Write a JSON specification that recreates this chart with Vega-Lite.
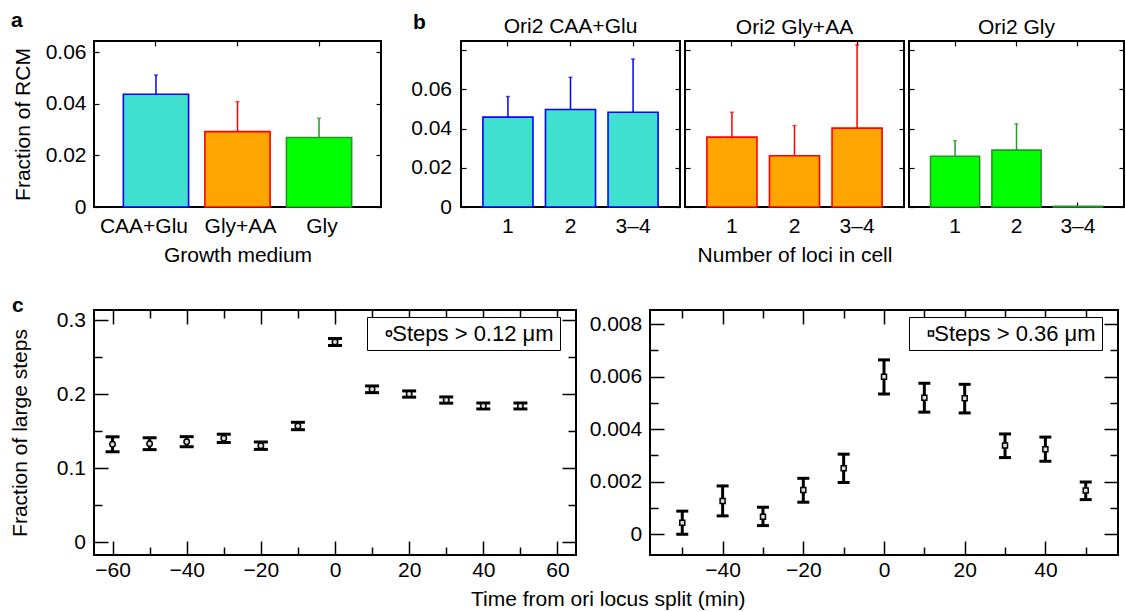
{
  "$schema": "https://vega.github.io/schema/vega-lite/v6.json",
  "padding": {"left": 8, "top": 9, "right": 0, "bottom": 0},
  "background": "white",
  "config": {
    "font": "Liberation Sans",
    "view": {"stroke": "black", "strokeWidth": 2},
    "axis": {"grid": false, "domain": false, "labelFont": "Liberation Sans", "titleFont": "Liberation Sans", "labelFontSize": 21, "titleFontSize": 21, "labelColor": "black", "titleColor": "black", "titleFontWeight": "normal", "tickColor": "black", "tickWidth": 1.2, "labelOverlap": false, "labelFlush": false, "labelBound": false},
    "title": {"font": "Liberation Sans", "fontSize": 21, "fontWeight": "normal", "color": "black"},
    "legend": {"labelFont": "Liberation Sans", "labelFontSize": 22, "labelColor": "black", "labelLimit": 0}
  },
  "datasets": {
    "a": [
      {"medium": "CAA+Glu", "frac": 0.0437, "err": 0.0511},
      {"medium": "Gly+AA", "frac": 0.0292, "err": 0.0408},
      {"medium": "Gly", "frac": 0.0269, "err": 0.0344}
    ],
    "b1": [
      {"loci": "1", "medium": "CAA+Glu", "frac": 0.0458, "err": 0.0563},
      {"loci": "2", "medium": "CAA+Glu", "frac": 0.0497, "err": 0.0661},
      {"loci": "3–4", "medium": "CAA+Glu", "frac": 0.0483, "err": 0.0754}
    ],
    "b2": [
      {"loci": "1", "medium": "Gly+AA", "frac": 0.0356, "err": 0.0483},
      {"loci": "2", "medium": "Gly+AA", "frac": 0.0261, "err": 0.0415},
      {"loci": "3–4", "medium": "Gly+AA", "frac": 0.0402, "err": 0.0827}
    ],
    "b3": [
      {"loci": "1", "medium": "Gly", "frac": 0.0259, "err": 0.0338},
      {"loci": "2", "medium": "Gly", "frac": 0.029, "err": 0.0424},
      {"loci": "3–4", "medium": "Gly", "frac": 0.0004, "err": null}
    ],
    "c1": [
      {"t": -60, "v": 0.1323, "lo": 0.1222, "hi": 0.1424, "series": "Steps > 0.12 μm"},
      {"t": -50, "v": 0.1331, "lo": 0.1251, "hi": 0.1411, "series": "Steps > 0.12 μm"},
      {"t": -40, "v": 0.1358, "lo": 0.129, "hi": 0.1426, "series": "Steps > 0.12 μm"},
      {"t": -30, "v": 0.1403, "lo": 0.1347, "hi": 0.1459, "series": "Steps > 0.12 μm"},
      {"t": -20, "v": 0.1304, "lo": 0.1254, "hi": 0.1354, "series": "Steps > 0.12 μm"},
      {"t": -10, "v": 0.157, "lo": 0.152, "hi": 0.162, "series": "Steps > 0.12 μm"},
      {"t": 0, "v": 0.2703, "lo": 0.2656, "hi": 0.275, "series": "Steps > 0.12 μm"},
      {"t": 10, "v": 0.2065, "lo": 0.202, "hi": 0.211, "series": "Steps > 0.12 μm"},
      {"t": 20, "v": 0.2001, "lo": 0.1959, "hi": 0.2043, "series": "Steps > 0.12 μm"},
      {"t": 30, "v": 0.192, "lo": 0.1878, "hi": 0.1962, "series": "Steps > 0.12 μm"},
      {"t": 40, "v": 0.184, "lo": 0.18, "hi": 0.188, "series": "Steps > 0.12 μm"},
      {"t": 50, "v": 0.184, "lo": 0.18, "hi": 0.188, "series": "Steps > 0.12 μm"}
    ],
    "c2": [
      {"t": -50, "v": 0.00044, "lo": 0.0, "hi": 0.00088, "series": "Steps > 0.36 μm"},
      {"t": -40, "v": 0.00127, "lo": 0.0007, "hi": 0.00184, "series": "Steps > 0.36 μm"},
      {"t": -30, "v": 0.00067, "lo": 0.00033, "hi": 0.00103, "series": "Steps > 0.36 μm"},
      {"t": -20, "v": 0.00169, "lo": 0.00122, "hi": 0.00213, "series": "Steps > 0.36 μm"},
      {"t": -10, "v": 0.00251, "lo": 0.00197, "hi": 0.00305, "series": "Steps > 0.36 μm"},
      {"t": 0, "v": 0.006, "lo": 0.00534, "hi": 0.00664, "series": "Steps > 0.36 μm"},
      {"t": 10, "v": 0.0052, "lo": 0.00465, "hi": 0.00575, "series": "Steps > 0.36 μm"},
      {"t": 20, "v": 0.00518, "lo": 0.00462, "hi": 0.00571, "series": "Steps > 0.36 μm"},
      {"t": 30, "v": 0.00338, "lo": 0.00292, "hi": 0.00382, "series": "Steps > 0.36 μm"},
      {"t": 40, "v": 0.00324, "lo": 0.00278, "hi": 0.0037, "series": "Steps > 0.36 μm"},
      {"t": 50, "v": 0.00167, "lo": 0.00132, "hi": 0.00199, "series": "Steps > 0.36 μm"}
    ]
  },
  "spacing": 269,
  "bounds": "flush",
  "vconcat": [
    {
      "spacing": 80,
      "bounds": "flush",
      "hconcat": [
        {
          "width": 287,
          "height": 166,
          "title": {"text": "a", "anchor": "start", "frame": "group", "dx": -83, "fontWeight": "bold", "offset": 9},
          "data": {"name": "a"},
          "layer": [
            {
              "mark": {"type": "bar", "strokeWidth": 1.6},
              "encoding": {
                "x": {"field": "medium", "type": "nominal", "sort": null, "scale": {"domain": ["CAA+Glu", "Gly+AA", "Gly"], "paddingInner": 0.2, "paddingOuter": 0.36}, "axis": {"orient": "bottom", "title": "Growth medium", "labelAngle": 0, "tickSize": -5, "labelPadding": 13.5, "titlePadding": 8, "labelOffset": {"condition": {"test": "datum.value == 'CAA+Glu'", "value": -12}, "value": 3}}},
                "y": {"field": "frac", "type": "quantitative", "scale": {"domain": [0, 0.0643], "nice": false, "zero": false}, "axis": {"orient": "left", "title": "Fraction of RCM", "values": [0, 0.02, 0.04, 0.06], "format": "~g", "tickSize": -5, "labelPadding": 13, "titlePadding": 12}},
                "fill": {"field": "medium", "type": "nominal", "scale": {"domain": ["CAA+Glu", "Gly+AA", "Gly"], "range": ["#40E0D0", "#FFA500", "#00FF00"]}, "legend": null},
                "stroke": {"field": "medium", "type": "nominal", "scale": {"domain": ["CAA+Glu", "Gly+AA", "Gly"], "range": ["#0000FF", "#FF0000", "#229922"]}, "legend": null}
              }
            },
            {
              "mark": {"type": "rule", "strokeWidth": 1.5},
              "encoding": {
                "x": {"field": "medium", "type": "nominal", "sort": null, "axis": {"orient": "top", "labels": false, "title": null, "tickSize": -5}},
                "y": {"field": "frac", "type": "quantitative", "axis": {"orient": "right", "labels": false, "title": null, "values": [0, 0.02, 0.04, 0.06], "tickSize": -5}},
                "y2": {"field": "err"},
                "stroke": {"field": "medium", "type": "nominal", "legend": null}
              }
            },
            {
              "mark": {"type": "tick", "orient": "horizontal", "size": 4, "thickness": 1.5},
              "encoding": {
                "x": {"field": "medium", "type": "nominal", "sort": null, "axis": null},
                "y": {"field": "err", "type": "quantitative", "axis": null},
                "color": {"field": "medium", "type": "nominal", "scale": {"domain": ["CAA+Glu", "Gly+AA", "Gly"], "range": ["#0000FF", "#FF0000", "#229922"]}, "legend": null}
              }
            }
          ],
          "resolve": {"axis": {"x": "independent", "y": "independent"}}
        },
        {
          "title": {"text": "b", "anchor": "start", "frame": "group", "dx": -48, "dy": 18, "fontWeight": "bold", "offset": 0},
          "spacing": 5,
          "bounds": "flush",
          "hconcat": [
            {
              "width": 219,
              "height": 166,
              "title": {"text": "Ori2 CAA+Glu", "offset": 2},
              "data": {"name": "b1"},
              "layer": [
                {
                  "mark": {"type": "bar", "strokeWidth": 1.6},
                  "encoding": {
                    "x": {"field": "loci", "type": "nominal", "sort": null, "scale": {"domain": ["1", "2", "3–4"], "paddingInner": 0.2, "paddingOuter": 0.35}, "axis": {"orient": "bottom", "title": null, "labelAngle": 0, "tickSize": -5, "labelPadding": 13.5}},
                    "y": {"field": "frac", "type": "quantitative", "scale": {"domain": [0, 0.0846], "nice": false, "zero": false}, "axis": {"orient": "left", "title": null, "values": [0, 0.02, 0.04, 0.06, 0.08], "format": "~g", "labelExpr": "datum.value > 0.07 ? '' : datum.label", "tickSize": -5, "labelPadding": 14.5}},
                    "fill": {"field": "medium", "type": "nominal", "scale": {"domain": ["CAA+Glu", "Gly+AA", "Gly"], "range": ["#40E0D0", "#FFA500", "#00FF00"]}, "legend": null},
                    "stroke": {"field": "medium", "type": "nominal", "scale": {"domain": ["CAA+Glu", "Gly+AA", "Gly"], "range": ["#0000FF", "#FF0000", "#229922"]}, "legend": null}
                  }
                },
                {
                  "mark": {"type": "rule", "strokeWidth": 1.5},
                  "encoding": {
                    "x": {"field": "loci", "type": "nominal", "sort": null, "axis": {"orient": "top", "labels": false, "title": null, "tickSize": -5}},
                    "y": {"field": "frac", "type": "quantitative", "axis": {"orient": "right", "labels": false, "title": null, "values": [0, 0.02, 0.04, 0.06, 0.08], "tickSize": -5}},
                    "y2": {"field": "err"},
                    "stroke": {"field": "medium", "type": "nominal", "legend": null}
                  }
                },
                {
                  "mark": {"type": "tick", "orient": "horizontal", "size": 4, "thickness": 1.5},
                  "encoding": {
                    "x": {"field": "loci", "type": "nominal", "sort": null, "axis": null},
                    "y": {"field": "err", "type": "quantitative", "axis": null},
                    "color": {"field": "medium", "type": "nominal", "scale": {"domain": ["CAA+Glu", "Gly+AA", "Gly"], "range": ["#0000FF", "#FF0000", "#229922"]}, "legend": null}
                  }
                }
              ],
              "resolve": {"axis": {"x": "independent", "y": "independent"}}
            },
            {
              "width": 219,
              "height": 166,
              "title": {"text": "Ori2 Gly+AA", "offset": 2},
              "data": {"name": "b2"},
              "layer": [
                {
                  "mark": {"type": "bar", "strokeWidth": 1.6},
                  "encoding": {
                    "x": {"field": "loci", "type": "nominal", "sort": null, "scale": {"domain": ["1", "2", "3–4"], "paddingInner": 0.2, "paddingOuter": 0.35}, "axis": {"orient": "bottom", "title": "Number of loci in cell", "labelAngle": 0, "tickSize": -5, "labelPadding": 13.5, "titlePadding": 8}},
                    "y": {"field": "frac", "type": "quantitative", "scale": {"domain": [0, 0.0846], "nice": false, "zero": false}, "axis": {"orient": "left", "title": null, "labels": false, "values": [0, 0.02, 0.04, 0.06, 0.08], "tickSize": -5}},
                    "fill": {"field": "medium", "type": "nominal", "scale": {"domain": ["CAA+Glu", "Gly+AA", "Gly"], "range": ["#40E0D0", "#FFA500", "#00FF00"]}, "legend": null},
                    "stroke": {"field": "medium", "type": "nominal", "scale": {"domain": ["CAA+Glu", "Gly+AA", "Gly"], "range": ["#0000FF", "#FF0000", "#229922"]}, "legend": null}
                  }
                },
                {
                  "mark": {"type": "rule", "strokeWidth": 1.5},
                  "encoding": {
                    "x": {"field": "loci", "type": "nominal", "sort": null, "axis": {"orient": "top", "labels": false, "title": null, "tickSize": -5}},
                    "y": {"field": "frac", "type": "quantitative", "axis": {"orient": "right", "labels": false, "title": null, "values": [0, 0.02, 0.04, 0.06, 0.08], "tickSize": -5}},
                    "y2": {"field": "err"},
                    "stroke": {"field": "medium", "type": "nominal", "legend": null}
                  }
                },
                {
                  "mark": {"type": "tick", "orient": "horizontal", "size": 4, "thickness": 1.5},
                  "encoding": {
                    "x": {"field": "loci", "type": "nominal", "sort": null, "axis": null},
                    "y": {"field": "err", "type": "quantitative", "axis": null},
                    "color": {"field": "medium", "type": "nominal", "scale": {"domain": ["CAA+Glu", "Gly+AA", "Gly"], "range": ["#0000FF", "#FF0000", "#229922"]}, "legend": null}
                  }
                }
              ],
              "resolve": {"axis": {"x": "independent", "y": "independent"}}
            },
            {
              "width": 215,
              "height": 166,
              "title": {"text": "Ori2 Gly", "offset": 2},
              "data": {"name": "b3"},
              "layer": [
                {
                  "mark": {"type": "bar", "strokeWidth": 1.6},
                  "encoding": {
                    "x": {"field": "loci", "type": "nominal", "sort": null, "scale": {"domain": ["1", "2", "3–4"], "paddingInner": 0.2, "paddingOuter": 0.35}, "axis": {"orient": "bottom", "title": null, "labelAngle": 0, "tickSize": -5, "labelPadding": 13.5}},
                    "y": {"field": "frac", "type": "quantitative", "scale": {"domain": [0, 0.0846], "nice": false, "zero": false}, "axis": {"orient": "left", "title": null, "labels": false, "values": [0, 0.02, 0.04, 0.06, 0.08], "tickSize": -5}},
                    "fill": {"field": "medium", "type": "nominal", "scale": {"domain": ["CAA+Glu", "Gly+AA", "Gly"], "range": ["#40E0D0", "#FFA500", "#00FF00"]}, "legend": null},
                    "stroke": {"field": "medium", "type": "nominal", "scale": {"domain": ["CAA+Glu", "Gly+AA", "Gly"], "range": ["#0000FF", "#FF0000", "#229922"]}, "legend": null}
                  }
                },
                {
                  "mark": {"type": "rule", "strokeWidth": 1.5},
                  "encoding": {
                    "x": {"field": "loci", "type": "nominal", "sort": null, "axis": {"orient": "top", "labels": false, "title": null, "tickSize": -5}},
                    "y": {"field": "frac", "type": "quantitative", "axis": {"orient": "right", "labels": false, "title": null, "values": [0, 0.02, 0.04, 0.06, 0.08], "tickSize": -5}},
                    "y2": {"field": "err"},
                    "stroke": {"field": "medium", "type": "nominal", "legend": null}
                  }
                },
                {
                  "mark": {"type": "tick", "orient": "horizontal", "size": 4, "thickness": 1.5},
                  "encoding": {
                    "x": {"field": "loci", "type": "nominal", "sort": null, "axis": null},
                    "y": {"field": "err", "type": "quantitative", "axis": null},
                    "color": {"field": "medium", "type": "nominal", "scale": {"domain": ["CAA+Glu", "Gly+AA", "Gly"], "range": ["#0000FF", "#FF0000", "#229922"]}, "legend": null}
                  }
                }
              ],
              "resolve": {"axis": {"x": "independent", "y": "independent"}}
            }
          ]
        }
      ]
    },
    {
      "spacing": 74,
      "bounds": "flush",
      "title": {"text": "Time from ori locus split (min)", "orient": "bottom", "anchor": "start", "frame": "group", "dx": 377, "offset": 2},
      "resolve": {"scale": {"shape": "independent"}, "legend": {"shape": "independent"}},
      "hconcat": [
        {
          "width": 482,
          "height": 245,
          "title": {"text": "c", "anchor": "start", "frame": "group", "dx": -82, "fontWeight": "bold", "offset": -7},
          "data": {"name": "c1"},
          "layer": [
            {
              "mark": {"type": "rule", "strokeWidth": 3, "color": "black"},
              "encoding": {
                "x": {"field": "t", "type": "quantitative", "scale": {"domain": [-65, 65], "nice": false, "zero": false}, "axis": {"orient": "bottom", "title": null, "values": [-60, -50, -40, -30, -20, -10, 0, 10, 20, 30, 40, 50, 60], "labelExpr": "abs(datum.value) % 20 == 0 ? datum.label : ''", "tickSize": {"condition": {"test": "abs(datum.value) % 20 == 0", "value": -14}, "value": -8}, "tickWidth": 1.5, "labelPadding": 18}},
                "y": {"field": "lo", "type": "quantitative", "scale": {"domain": [-0.0171, 0.3135], "nice": false, "zero": false}, "axis": {"orient": "left", "title": "Fraction of large steps", "values": [0, 0.05, 0.1, 0.15, 0.2, 0.25, 0.3], "format": "~g", "labelExpr": "abs(round(datum.value * 100)) % 10 == 0 ? datum.label : ''", "tickSize": {"condition": {"test": "abs(round(datum.value * 100)) % 10 == 0", "value": -14}, "value": -8}, "tickWidth": 1.5, "labelPadding": 22.6, "titlePadding": 26}},
                "y2": {"field": "hi"}
              }
            },
            {
              "mark": {"type": "tick", "orient": "horizontal", "size": 14, "thickness": 3, "color": "black", "opacity": 1},
              "encoding": {
                "x": {"field": "t", "type": "quantitative", "axis": {"orient": "top", "title": null, "labels": false, "values": [-60, -50, -40, -30, -20, -10, 0, 10, 20, 30, 40, 50, 60], "tickSize": {"condition": {"test": "abs(datum.value) % 20 == 0", "value": -14}, "value": -8}, "tickWidth": 1.5}},
                "y": {"field": "lo", "type": "quantitative", "axis": {"orient": "right", "title": null, "labels": false, "values": [0, 0.05, 0.1, 0.15, 0.2, 0.25, 0.3], "tickSize": {"condition": {"test": "abs(round(datum.value * 100)) % 10 == 0", "value": -14}, "value": -8}, "tickWidth": 1.5}}
              }
            },
            {
              "mark": {"type": "tick", "orient": "horizontal", "size": 14, "thickness": 3, "color": "black", "opacity": 1},
              "encoding": {
                "x": {"field": "t", "type": "quantitative", "axis": null},
                "y": {"field": "hi", "type": "quantitative", "axis": null}
              }
            },
            {
              "mark": {"type": "point", "filled": true, "fill": "#dddddd", "stroke": "black", "strokeWidth": 1.5, "size": 30, "opacity": 1},
              "encoding": {
                "x": {"field": "t", "type": "quantitative", "axis": null},
                "y": {"field": "v", "type": "quantitative", "axis": null},
                "shape": {"field": "series", "type": "nominal", "scale": {"domain": ["Steps > 0.12 μm"], "range": ["circle"]}, "legend": {"orient": "none", "legendX": 273, "legendY": 7, "title": null, "strokeColor": "black", "fillColor": "white", "padding": 5.5, "cornerRadius": 0, "labelFontSize": 22, "labelLimit": 0, "symbolOffset": 5.5, "labelOffset": -7.7, "symbolSize": 28, "encode": {"symbols": {"update": {"fill": {"value": "#dddddd"}, "stroke": {"value": "black"}, "strokeWidth": {"value": 1.5}, "opacity": {"value": 1}}}}}}
              }
            }
          ],
          "resolve": {"axis": {"x": "independent", "y": "independent"}}
        },
        {
          "width": 468,
          "height": 245,
          "data": {"name": "c2"},
          "layer": [
            {
              "mark": {"type": "rule", "strokeWidth": 3, "color": "black"},
              "encoding": {
                "x": {"field": "t", "type": "quantitative", "scale": {"domain": [-58, 58], "nice": false, "zero": false}, "axis": {"orient": "bottom", "title": null, "values": [-50, -40, -30, -20, -10, 0, 10, 20, 30, 40, 50], "labelExpr": "abs(datum.value) % 20 == 0 ? datum.label : ''", "tickSize": {"condition": {"test": "abs(datum.value) % 20 == 0", "value": -14}, "value": -8}, "tickWidth": 1.5, "labelPadding": 18}},
                "y": {"field": "lo", "type": "quantitative", "scale": {"domain": [-0.00079, 0.00854], "nice": false, "zero": false}, "axis": {"orient": "left", "title": null, "values": [0, 0.001, 0.002, 0.003, 0.004, 0.005, 0.006, 0.007, 0.008], "format": "~g", "labelExpr": "round(datum.value * 1000) % 2 == 0 ? datum.label : ''", "tickSize": {"condition": {"test": "round(datum.value * 1000) % 2 == 0", "value": -14}, "value": -8}, "tickWidth": 1.5, "labelPadding": 22.3}},
                "y2": {"field": "hi"}
              }
            },
            {
              "mark": {"type": "tick", "orient": "horizontal", "size": 12, "thickness": 3, "color": "black", "opacity": 1},
              "encoding": {
                "x": {"field": "t", "type": "quantitative", "axis": {"orient": "top", "title": null, "labels": false, "values": [-50, -40, -30, -20, -10, 0, 10, 20, 30, 40, 50], "tickSize": {"condition": {"test": "abs(datum.value) % 20 == 0", "value": -14}, "value": -8}, "tickWidth": 1.5}},
                "y": {"field": "lo", "type": "quantitative", "axis": {"orient": "right", "title": null, "labels": false, "values": [0, 0.001, 0.002, 0.003, 0.004, 0.005, 0.006, 0.007, 0.008], "tickSize": {"condition": {"test": "round(datum.value * 1000) % 2 == 0", "value": -14}, "value": -8}, "tickWidth": 1.5}}
              }
            },
            {
              "mark": {"type": "tick", "orient": "horizontal", "size": 12, "thickness": 3, "color": "black", "opacity": 1},
              "encoding": {
                "x": {"field": "t", "type": "quantitative", "axis": null},
                "y": {"field": "hi", "type": "quantitative", "axis": null}
              }
            },
            {
              "mark": {"type": "point", "filled": true, "fill": "#dddddd", "stroke": "black", "strokeWidth": 1.5, "size": 25, "opacity": 1},
              "encoding": {
                "x": {"field": "t", "type": "quantitative", "axis": null},
                "y": {"field": "v", "type": "quantitative", "axis": null},
                "shape": {"field": "series", "type": "nominal", "scale": {"domain": ["Steps > 0.36 μm"], "range": ["square"]}, "legend": {"orient": "none", "legendX": 259, "legendY": 7, "title": null, "strokeColor": "black", "fillColor": "white", "padding": 5.5, "cornerRadius": 0, "labelFontSize": 22, "labelLimit": 0, "symbolOffset": 5.5, "labelOffset": -7.7, "symbolSize": 25, "encode": {"symbols": {"update": {"fill": {"value": "#dddddd"}, "stroke": {"value": "black"}, "strokeWidth": {"value": 1.5}, "opacity": {"value": 1}}}}}}
              }
            }
          ],
          "resolve": {"axis": {"x": "independent", "y": "independent"}}
        }
      ]
    }
  ]
}
